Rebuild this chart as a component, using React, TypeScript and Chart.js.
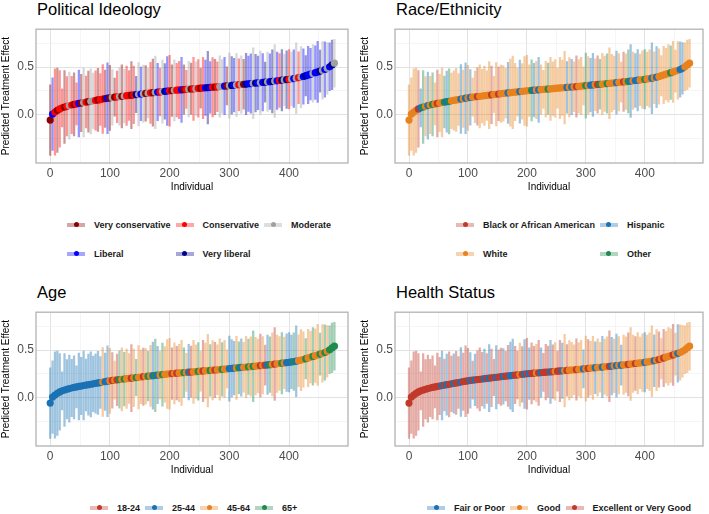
import React, { useEffect, useRef } from "react";
import { Chart, registerables } from "chart.js";
Chart.register(...registerables);

const FONT = '"Liberation Sans", Arial, Helvetica, sans-serif';
Chart.defaults.font.family = FONT;

// individuals are shown every SAMPLE_STEP positions along the sorted order
const SAMPLE_STEP = 4;

const estimate = [
  -0.055, 0.008, 0.03, 0.048, 0.062, 0.073, 0.082, 0.09, 0.097, 0.103,
  0.109, 0.114, 0.119, 0.124, 0.129, 0.134, 0.138, 0.142, 0.147, 0.151,
  0.156, 0.16, 0.165, 0.169, 0.174, 0.178, 0.182, 0.185, 0.188, 0.191,
  0.194, 0.197, 0.2, 0.203, 0.206, 0.209, 0.212, 0.215, 0.218, 0.221,
  0.224, 0.227, 0.23, 0.232, 0.235, 0.238, 0.24, 0.243, 0.246, 0.249,
  0.251, 0.253, 0.256, 0.258, 0.26, 0.262, 0.264, 0.266, 0.268, 0.27,
  0.272, 0.274, 0.277, 0.279, 0.281, 0.283, 0.285, 0.287, 0.289, 0.291,
  0.293, 0.296, 0.298, 0.301, 0.303, 0.306, 0.308, 0.311, 0.313, 0.315,
  0.318, 0.32, 0.322, 0.325, 0.327, 0.33, 0.332, 0.335, 0.337, 0.34,
  0.342, 0.345, 0.347, 0.35, 0.353, 0.356, 0.359, 0.362, 0.365, 0.368,
  0.371, 0.375, 0.379, 0.383, 0.388, 0.394, 0.401, 0.409, 0.417, 0.425,
  0.433, 0.441, 0.449, 0.457, 0.465, 0.474, 0.486, 0.502, 0.522, 0.54,
];

const ciHalfWidth = [
  0.37, 0.38, 0.45, 0.44, 0.4, 0.2, 0.38, 0.31, 0.35, 0.3,
  0.33, 0.22, 0.35, 0.3, 0.36, 0.27, 0.32, 0.34, 0.29, 0.31,
  0.33, 0.27, 0.36, 0.3, 0.37, 0.34, 0.29, 0.2, 0.27, 0.3,
  0.33, 0.28, 0.31, 0.26, 0.35, 0.3, 0.19, 0.33, 0.28, 0.3,
  0.29, 0.26, 0.32, 0.35, 0.38, 0.3, 0.25, 0.33, 0.29, 0.36,
  0.37, 0.27, 0.32, 0.28, 0.3, 0.34, 0.26, 0.2, 0.29, 0.27,
  0.33, 0.28, 0.3, 0.21, 0.32, 0.29, 0.38, 0.27, 0.31, 0.29,
  0.26, 0.32, 0.28, 0.3, 0.2, 0.34, 0.3, 0.28, 0.33, 0.27,
  0.3, 0.26, 0.32, 0.29, 0.31, 0.37, 0.3, 0.28, 0.33, 0.3,
  0.21, 0.31, 0.29, 0.33, 0.38, 0.3, 0.28, 0.32, 0.27, 0.3,
  0.31, 0.28, 0.3, 0.37, 0.27, 0.32, 0.29, 0.21, 0.3, 0.27,
  0.3, 0.28, 0.32, 0.22, 0.3, 0.29, 0.27, 0.25, 0.26, 0.25,
];

// group codes index into the label lists below
const ideologyGroup = [
  0, 3, 1, 0, 1, 1, 0, 1, 2, 1,
  0, 1, 3, 0, 2, 1, 0, 2, 2, 1,
  0, 1, 1, 0, 3, 0, 2, 0, 1, 2,
  0, 2, 1, 1, 0, 1, 4, 2, 3, 2,
  0, 2, 1, 0, 2, 3, 1, 2, 4, 3,
  1, 0, 2, 1, 1, 3, 0, 1, 2, 0,
  1, 2, 1, 0, 1, 3, 4, 3, 1, 0,
  1, 2, 2, 3, 0, 2, 4, 3, 2, 1,
  2, 0, 4, 3, 3, 2, 4, 3, 2, 3,
  4, 2, 3, 4, 2, 3, 1, 4, 2, 4,
  1, 2, 3, 2, 1, 2, 3, 4, 3, 3,
  2, 3, 3, 4, 2, 3, 2, 3, 4, 2,
];

const raceGroup = [
  2, 2, 2, 2, 0, 1, 3, 2, 1, 2,
  3, 2, 0, 2, 2, 3, 1, 3, 2, 2,
  2, 2, 1, 2, 1, 2, 1, 2, 2, 0,
  2, 2, 2, 2, 2, 0, 2, 2, 0, 2,
  2, 2, 1, 2, 2, 2, 2, 1, 2, 2,
  2, 2, 3, 1, 2, 1, 2, 2, 2, 3,
  2, 2, 2, 2, 2, 2, 2, 1, 2, 1,
  2, 0, 2, 2, 2, 3, 2, 1, 1, 2,
  0, 3, 2, 2, 3, 2, 2, 2, 1, 2,
  2, 0, 2, 3, 1, 2, 1, 1, 2, 2,
  3, 2, 2, 1, 2, 1, 2, 2, 2, 2,
  2, 3, 2, 2, 2, 1, 1, 2, 2, 2,
];

const ageGroup = [
  1, 1, 1, 1, 1, 1, 1, 1, 1, 1,
  1, 1, 1, 1, 1, 1, 1, 1, 1, 1,
  1, 1, 2, 1, 1, 2, 0, 2, 0, 3,
  2, 3, 2, 2, 0, 2, 3, 2, 2, 0,
  2, 3, 2, 1, 3, 1, 2, 3, 2, 2,
  2, 0, 2, 0, 2, 2, 3, 2, 1, 0,
  2, 2, 3, 2, 0, 2, 2, 3, 2, 0,
  2, 2, 3, 2, 2, 1, 1, 1, 2, 3,
  1, 2, 2, 3, 2, 3, 2, 2, 0, 2,
  0, 1, 3, 2, 0, 2, 2, 3, 2, 1,
  1, 1, 3, 1, 2, 2, 2, 3, 2, 2,
  3, 2, 2, 3, 2, 3, 2, 3, 3, 3,
];

const healthGroup = [
  2, 2, 2, 2, 2, 2, 2, 2, 2, 2,
  2, 2, 2, 2, 0, 2, 0, 2, 2, 0,
  2, 2, 0, 2, 2, 2, 0, 2, 0, 2,
  2, 2, 0, 2, 0, 2, 2, 0, 2, 2,
  0, 2, 2, 0, 0, 2, 2, 1, 2, 0,
  2, 0, 2, 2, 1, 2, 0, 2, 2, 2,
  0, 2, 1, 2, 2, 0, 1, 2, 1, 1,
  1, 2, 1, 1, 0, 1, 2, 1, 1, 0,
  1, 1, 0, 1, 1, 2, 0, 1, 0, 1,
  0, 1, 1, 2, 1, 1, 2, 1, 1, 1,
  0, 1, 1, 1, 0, 1, 2, 1, 2, 1,
  1, 1, 2, 1, 0, 1, 1, 1, 1, 1,
];

const ideologyLabels = ["Very conservative", "Conservative", "Moderate", "Liberal", "Very liberal"];
const raceLabels = ["Black or African American", "Hispanic", "White", "Other"];
const ageLabels = ["18-24", "25-44", "45-64", "65+"];
const healthLabels = ["Fair or Poor", "Good", "Excellent or Very Good"];

const ideologyColors = ["#8B0000", "#FF0000", "#A0A0A0", "#0000FF", "#00008B"];
const raceColors = ["#C0392B", "#1A72B5", "#E8821E", "#1E8A4C"];
const ageColors = ["#C0392B", "#1A72B5", "#E8821E", "#1E8A4C"];
const healthColors = ["#1A72B5", "#E8821E", "#C0392B"];

const xMajorTicks = [0, 100, 200, 300, 400];
const xMinorTicks = [50, 150, 250, 350, 450];
const yMajorTicks = [0, 0.5];
const yMajorLabels = ["0.0", "0.5"];
const yMinorTicks = [-0.25, 0.25, 0.75];

function rgba(hex: string, a: number) {
  const n = parseInt(hex.slice(1), 16);
  return `rgba(${(n >> 16) & 255},${(n >> 8) & 255},${n & 255},${a})`;
}

const borderPlugin = {
  id: "panelBorder",
  afterDraw(chart: any) {
    const { ctx, chartArea: a } = chart;
    ctx.save();
    ctx.strokeStyle = "#B3B3B3";
    ctx.lineWidth = 1.3;
    ctx.strokeRect(a.left, a.top, a.right - a.left, a.bottom - a.top);
    ctx.restore();
  },
};

type PanelProps = {
  ox: number;
  oy: number;
  width: number;
  title: string;
  groups: number[];
  labels: string[];
  colors: string[];
  legendLeft: number;
  legendCols: number;
};

function Panel({ ox, oy, width, title, groups, labels, colors, legendLeft, legendCols }: PanelProps) {
  const ref = useRef<HTMLCanvasElement>(null);
  const H = 180;
  useEffect(() => {
    const xs = estimate.map((_, i) => i * SAMPLE_STEP);
    const chart = new Chart(ref.current as HTMLCanvasElement, {
      type: "bar",
      data: {
        datasets: [
          {
            type: "scatter",
            data: xs.map((x, i) => ({ x, y: estimate[i] })),
            pointBackgroundColor: groups.map((g) => colors[g]),
            pointBorderWidth: 0,
            pointRadius: 3.6,
            order: 0,
          } as any,
          {
            type: "bar",
            data: xs.map((x, i) => ({ x, y: [estimate[i] - ciHalfWidth[i], estimate[i] + ciHalfWidth[i]] })),
            backgroundColor: groups.map((g) => rgba(colors[g], 0.42)),
            borderWidth: 0,
            barThickness: 1.6,
            order: 1,
          } as any,
        ],
      },
      options: {
        responsive: false,
        animation: false,
        devicePixelRatio: 1,
        layout: { padding: { top: 4, right: width - (width === 354 ? 348 : 344), left: 0, bottom: 0 } },
        plugins: { legend: { display: false }, tooltip: { enabled: false }, title: { display: false } },
        scales: {
          x: {
            type: "linear",
            min: -23.75,
            max: 498.75,
            offset: false,
            afterBuildTicks: (s: any) => {
              s.ticks = [...xMajorTicks, ...xMinorTicks].sort((a, b) => a - b).map((v) => ({ value: v }));
            },
            afterFit: (s: any) => {
              s.height = 37;
            },
            grid: {
              offset: false,
              drawTicks: false,
              color: (c: any) => (xMajorTicks.includes(c.tick?.value) ? "#E2E2E2" : "#EEEEEE"),
              lineWidth: (c: any) => (xMajorTicks.includes(c.tick?.value) ? 1 : 0.6),
            },
            border: { display: false },
            ticks: {
              autoSkip: false,
              maxRotation: 0,
              padding: 3,
              color: "#4D4D4D",
              font: { size: 12 },
              callback: (v: any) => (xMajorTicks.includes(Number(v)) ? String(v) : ""),
            },
            title: {
              display: true,
              text: "Individual",
              color: "#000",
              font: { size: 10 },
              padding: { top: 0, bottom: 7 },
            },
          },
          y: {
            type: "linear",
            min: -0.503,
            max: 0.895,
            afterBuildTicks: (s: any) => {
              s.ticks = [...yMinorTicks, ...yMajorTicks].sort((a, b) => a - b).map((v) => ({ value: v }));
            },
            afterFit: (s: any) => {
              s.width = 36;
            },
            grid: {
              drawTicks: false,
              color: (c: any) => (yMajorTicks.includes(c.tick?.value) ? "#E2E2E2" : "#EEEEEE"),
              lineWidth: (c: any) => (yMajorTicks.includes(c.tick?.value) ? 1 : 0.6),
            },
            border: { display: false },
            ticks: {
              autoSkip: false,
              padding: 2,
              color: "#4D4D4D",
              font: { size: 12 },
              callback: (v: any) => {
                const k = yMajorTicks.indexOf(Number(v));
                return k >= 0 ? yMajorLabels[k] : "";
              },
            },
            title: {
              display: true,
              text: "Predicted Treatment Effect",
              color: "#000",
              font: { size: 10 },
              padding: { top: 0, bottom: 0 },
            },
          },
        },
      } as any,
      plugins: [borderPlugin],
    });
    return () => chart.destroy();
  }, []);

  return (
    <>
      <div
        style={{
          position: "absolute",
          left: ox + 37,
          top: oy + 1,
          fontSize: 16.5,
          lineHeight: "17px",
          color: "#000",
          whiteSpace: "nowrap",
        }}
      >
        {title}
      </div>
      <canvas
        ref={ref}
        width={width}
        height={H}
        style={{ position: "absolute", left: ox, top: oy + 20, width, height: H, display: "block" }}
      />
      <div
        style={{
          position: "absolute",
          left: legendLeft,
          top: oy + 219,
          display: "grid",
          gridTemplateColumns: `repeat(${legendCols}, auto)`,
          columnGap: 5,
          rowGap: 18,
        }}
      >
        {labels.map((lab, i) => (
          <div key={lab} style={{ display: "flex", alignItems: "center", height: 11 }}>
            <div style={{ position: "relative", width: 18, height: 11, flex: "none" }}>
              <div
                style={{
                  position: "absolute",
                  left: 0,
                  width: 18,
                  top: 3.5,
                  height: 4,
                  background: rgba(colors[i], 0.35),
                }}
              />
              <div
                style={{
                  position: "absolute",
                  left: 6.5,
                  top: 3,
                  width: 5,
                  height: 5,
                  borderRadius: "50%",
                  background: colors[i],
                }}
              />
            </div>
            <span
              style={{
                marginLeft: 9,
                fontSize: 9,
                fontWeight: "bold",
                color: "#1A1A1A",
                whiteSpace: "nowrap",
              }}
            >
              {lab}
            </span>
          </div>
        ))}
      </div>
    </>
  );
}

export default function App() {
  return (
    <div
      style={{
        position: "absolute",
        left: 0,
        top: 0,
        width: 709,
        height: 514,
        background: "#fff",
        fontFamily: FONT,
        overflow: "hidden",
      }}
    >
      <Panel ox={0} oy={0} width={354} title="Political Ideology" groups={ideologyGroup} labels={ideologyLabels} colors={ideologyColors} legendLeft={67} legendCols={3} />
      <Panel ox={359} oy={0} width={350} title="Race/Ethnicity" groups={raceGroup} labels={raceLabels} colors={raceColors} legendLeft={456} legendCols={2} />
      <Panel ox={0} oy={283} width={354} title="Age" groups={ageGroup} labels={ageLabels} colors={ageColors} legendLeft={90} legendCols={4} />
      <Panel ox={359} oy={283} width={350} title="Health Status" groups={healthGroup} labels={healthLabels} colors={healthColors} legendLeft={427} legendCols={3} />
    </div>
  );
}
